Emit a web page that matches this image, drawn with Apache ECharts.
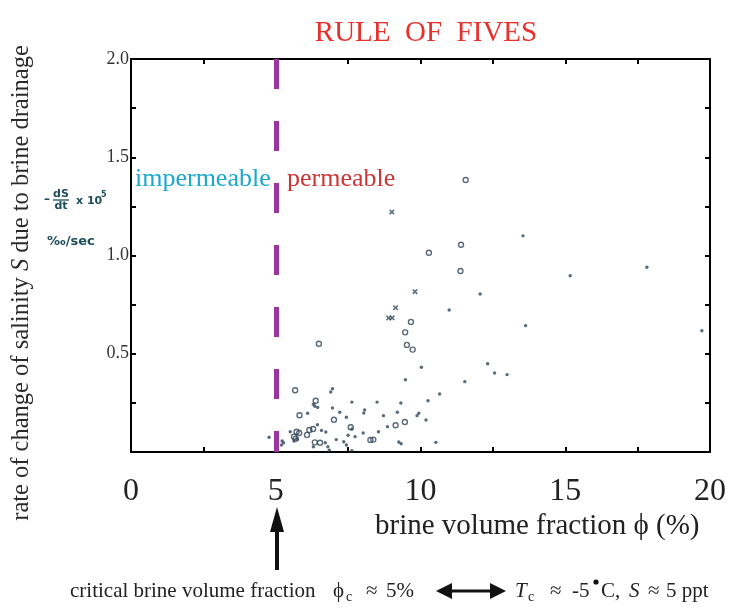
<!DOCTYPE html>
<html>
<head>
<meta charset="utf-8">
<script src="https://cdn.jsdelivr.net/npm/echarts@6/dist/echarts.min.js"></script>
<style>html,body{margin:0;padding:0;background:#fff;}#c{width:729px;height:608px;}</style>
</head>
<body>
<div id="c"></div>
<script>
// ---- data ----
const xTickLabels = [0, 5, 10, 15, 20];
const yTickLabels = [0.5, 1.0, 1.5, 2.0];
const criticalPhi = 5;
const circlePoints = [
  [5.67,0.314],[6.38,0.261],[5.82,0.187],[7.01,0.164],[6.16,0.112],[6.29,0.117],
  [5.72,0.103],[5.81,0.097],[5.63,0.078],[5.69,0.068],[6.08,0.087],[6.35,0.049],
  [6.53,0.047],[7.59,0.126],[8.27,0.061],[8.37,0.063],[9.14,0.136],[9.46,0.153],
  [6.49,0.551],[9.47,0.609],[9.67,0.662],[9.53,0.545],[9.73,0.521],[10.29,1.014],
  [11.40,1.055],[11.38,0.921],[11.56,1.384]
];
const crossPoints = [
  [9.01,1.221],[9.81,0.816],[9.14,0.734],[8.90,0.682],[9.02,0.683]
];
const dotPoints = [
  [6.90,0.305],[6.96,0.322],[6.30,0.243],[6.35,0.233],[6.45,0.227],[6.96,0.224],
  [7.63,0.254],[8.50,0.254],[9.32,0.249],[6.10,0.197],[7.21,0.202],[7.44,0.177],
  [8.07,0.214],[8.04,0.198],[8.72,0.185],[9.20,0.202],[9.94,0.197],[9.88,0.185],
  [10.19,0.163],[10.26,0.261],[8.86,0.129],[8.55,0.103],[6.44,0.139],[6.58,0.110],
  [6.73,0.102],[7.63,0.117],[7.50,0.085],[8.02,0.097],[7.74,0.078],[9.25,0.051],
  [9.33,0.042],[7.09,0.063],[7.35,0.052],[7.44,0.036],[7.63,0.007],[6.71,0.047],
  [6.80,0.027],[6.85,0.009],[6.30,0.027],[5.50,0.103],[5.74,0.065],[5.63,0.056],
  [5.22,0.056],[5.27,0.047],[5.20,0.036],[4.77,0.075],[9.48,0.368],[10.03,0.431],
  [10.53,0.049],[10.66,0.295],[11.53,0.358],[12.32,0.449],[12.56,0.402],[12.99,0.394],
  [12.06,0.804],[10.99,0.723],[13.63,0.643],[13.54,1.10],[15.17,0.897],[17.82,0.94],
  [19.72,0.617]
];

// ---- chart ----
const SERIF = '"Liberation Serif", "Times New Roman", serif';
const SANS = '"DejaVu Sans", "Liberation Sans", Arial, sans-serif';
const ptColor = '#2f4556';
const teal = '#1d4d5b';
const chart = echarts.init(document.getElementById('c'), null, {renderer: 'canvas'});

function axisBase(pos) {
  return {
    position: pos,
    axisLine: {show: true, onZero: false, lineStyle: {color: '#000', width: 2}},
    axisTick: {show: true, inside: true, length: 5, lineStyle: {color: '#000', width: 2}},
    splitLine: {show: false}
  };
}

const option = {
  animation: false,
  backgroundColor: '#fff',
  grid: {left: 131, right: 15, top: 59, bottom: 156},
  title: {
    text: 'RULE  OF  FIVES',
    left: 421, top: 14, textAlign: 'center',
    textStyle: {fontFamily: SERIF, fontSize: 29, fontWeight: 'normal', color: '#e8302c'}
  },
  xAxis: [
    Object.assign(axisBase('bottom'), {
      type: 'value', min: 0, max: 20, interval: 2.5,
      axisLabel: {
        margin: 24, fontFamily: SERIF, fontSize: 32, color: '#222',
        formatter: v => (xTickLabels.indexOf(v) >= 0 ? String(v) : '')
      }
    }),
    Object.assign(axisBase('top'), {
      type: 'value', min: 0, max: 20, interval: 2.5, axisLabel: {show: false}
    })
  ],
  yAxis: [
    Object.assign(axisBase('left'), {
      type: 'value', min: 0, max: 2, interval: 0.25,
      axisLabel: {
        margin: 2, fontFamily: SERIF, fontSize: 18, color: '#333',
        formatter: v => (yTickLabels.indexOf(v) >= 0 ? v.toFixed(1) : '')
      }
    }),
    Object.assign(axisBase('right'), {
      type: 'value', min: 0, max: 2, interval: 0.25, axisLabel: {show: false}
    })
  ],
  series: [
    {
      type: 'scatter', name: 'dots', data: dotPoints, symbol: 'circle', symbolSize: 3.4,
      itemStyle: {color: ptColor}, silent: true, z: 3,
      markLine: {
        silent: true, symbol: ['none', 'none'], label: {show: false},
        lineStyle: {color: '#9b35a0', width: 5, type: [30, 32], opacity: 1},
        emphasis: {disabled: true},
        data: [[{coord: [criticalPhi, 2]}, {coord: [criticalPhi, 0]}]]
      }
    },
    {
      type: 'scatter', name: 'circles', data: circlePoints, symbol: 'circle', symbolSize: 5,
      itemStyle: {color: 'rgba(255,255,255,0)', borderColor: ptColor, borderWidth: 1.4}, silent: true, z: 4
    },
    {
      type: 'scatter', name: 'crosses', data: crossPoints,
      symbol: 'path://M0,2L2,0L5,3L8,0L10,2L7,5L10,8L8,10L5,7L2,10L0,8L3,5Z', symbolSize: 5.5,
      itemStyle: {color: ptColor}, silent: true, z: 4
    }
  ],
  graphic: [
    // region labels
    {type: 'text', left: 135, top: 166, style: {text: 'impermeable', font: '26px ' + SERIF, fill: '#1ba8cf'}},
    {type: 'text', left: 287, top: 166, style: {text: 'permeable', font: '26px ' + SERIF, fill: '#cc3535'}},
    // y-axis title
    {type: 'text', x: 22, y: 283, rotation: Math.PI / 2,
      style: {
        text: '{a|rate of change of salinity }{i|S}{a| due to brine drainage}',
        align: 'center', verticalAlign: 'middle',
        rich: {
          a: {fontFamily: SERIF, fontSize: 24.5, fill: '#2a2a2a'},
          i: {fontFamily: SERIF, fontSize: 24.5, fontStyle: 'italic', fill: '#2a2a2a'}
        }
      }},
    // -dS/dt x 10^5 and units
    {type: 'text', x: 44, y: 200, style: {text: '\u2013', font: 'bold 12px ' + SANS, fill: teal, verticalAlign: 'middle'}},
    {type: 'text', x: 61, y: 194, style: {text: 'dS', font: 'bold 11px ' + SANS, fill: teal, align: 'center', verticalAlign: 'middle'}},
    {type: 'line', shape: {x1: 53, y1: 200, x2: 69, y2: 200}, style: {stroke: teal, lineWidth: 1.3}},
    {type: 'text', x: 61, y: 206, style: {text: 'dt', font: 'bold 11px ' + SANS, fill: teal, align: 'center', verticalAlign: 'middle'}},
    {type: 'text', x: 76, y: 201, style: {text: 'x 10', font: 'bold 11px ' + SANS, fill: teal, verticalAlign: 'middle'}},
    {type: 'text', x: 101, y: 195, style: {text: '5', font: 'bold 8px ' + SANS, fill: teal, verticalAlign: 'middle'}},
    {type: 'text', x: 47, y: 242, style: {text: '\u2030/sec', font: 'bold 13px ' + SANS, fill: teal, verticalAlign: 'middle'}},
    // x-axis title
    {type: 'text', x: 375, y: 526, style: {text: 'brine volume fraction \u03d5 (%)', font: '29px ' + SERIF, fill: '#222', verticalAlign: 'middle'}},
    // vertical arrow
    {type: 'polygon', shape: {points: [[277, 507], [270, 532], [275, 532], [275, 570], [279, 570], [279, 532], [284, 532]]}, style: {fill: '#111'}},
    // bottom note
    {type: 'text', x: 70, y: 591, style: {text: 'critical brine volume fraction', font: '21px ' + SERIF, fill: '#222', verticalAlign: 'middle'}},
    {type: 'text', x: 333, y: 591, style: {text: '\u03d5', font: '21px ' + SERIF, fill: '#222', verticalAlign: 'middle'}},
    {type: 'text', x: 346, y: 597, style: {text: 'c', font: '14px ' + SERIF, fill: '#222', verticalAlign: 'middle'}},
    {type: 'text', x: 366, y: 591, style: {text: '\u2248', font: '21px ' + SERIF, fill: '#222', verticalAlign: 'middle'}},
    {type: 'text', x: 386, y: 591, style: {text: '5%', font: '21px ' + SERIF, fill: '#222', verticalAlign: 'middle'}},
    {type: 'polygon', shape: {points: [[436, 591], [452, 583], [452, 589.5], [490, 589.5], [490, 583], [506, 591], [490, 599], [490, 592.5], [452, 592.5], [452, 599]]}, style: {fill: '#111'}},
    {type: 'text', x: 515, y: 591, style: {text: 'T', font: 'italic 21px ' + SERIF, fill: '#222', verticalAlign: 'middle'}},
    {type: 'text', x: 528, y: 597, style: {text: 'c', font: '14px ' + SERIF, fill: '#222', verticalAlign: 'middle'}},
    {type: 'text', x: 550, y: 591, style: {text: '\u2248', font: '21px ' + SERIF, fill: '#222', verticalAlign: 'middle'}},
    {type: 'text', x: 572, y: 591, style: {text: '-5', font: '21px ' + SERIF, fill: '#222', verticalAlign: 'middle'}},
    {type: 'circle', shape: {cx: 596, cy: 582, r: 2.6}, style: {fill: '#111'}},
    {type: 'text', x: 601, y: 591, style: {text: 'C,', font: '21px ' + SERIF, fill: '#222', verticalAlign: 'middle'}},
    {type: 'text', x: 629, y: 591, style: {text: 'S', font: 'italic 21px ' + SERIF, fill: '#222', verticalAlign: 'middle'}},
    {type: 'text', x: 648, y: 591, style: {text: '\u2248', font: '21px ' + SERIF, fill: '#222', verticalAlign: 'middle'}},
    {type: 'text', x: 666, y: 591, style: {text: '5 ppt', font: '21px ' + SERIF, fill: '#222', verticalAlign: 'middle'}}
  ]
};
chart.setOption(option);
</script>
</body>
</html>
